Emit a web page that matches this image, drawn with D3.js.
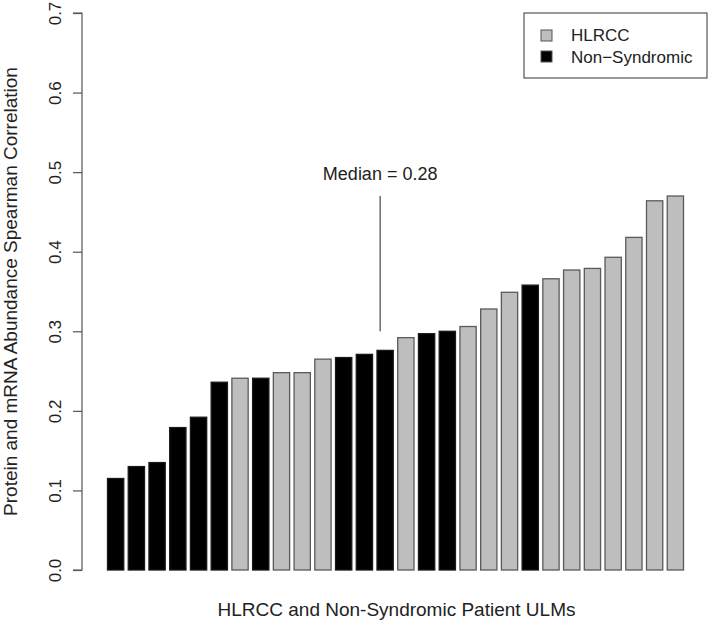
<!DOCTYPE html>
<html><head><meta charset="utf-8">
<script src="https://cdn.jsdelivr.net/npm/d3@7"></script>
<style>body{margin:0;background:#fff}svg{display:block;font-family:"Liberation Sans",Arial,sans-serif}</style>
</head><body><svg id="c" width="710" height="622"></svg>
<script>
const values = [0.115,0.130,0.135,0.179,0.192,0.236,0.241,0.241,0.248,0.248,0.265,0.267,0.271,0.276,0.292,0.297,0.300,0.306,0.328,0.349,0.358,0.366,0.377,0.379,0.393,0.418,0.464,0.470];
const groups = ["N","N","N","N","N","N","H","N","H","H","H","N","N","N","H","N","N","H","H","H","N","H","H","H","H","H","H","H"];
const legendLabels = ["HLRCC","Non\u2212Syndromic"];
const legendKeys = ["H","N"];
const yTicks = [0,0.1,0.2,0.3,0.4,0.5,0.6,0.7];
const medianLabel = "Median = 0.28";
const medianIndex = 12.76;   // annotation position in bar-index units
const medianLine = [0.30, 0.47];
const medianTextY = 0.49;

const color = {H:"#bebebe", N:"#000000"};
const svg = d3.select("#c");
const y = d3.scaleLinear().domain([0,0.7]).range([570,13]);
const x = d3.scaleBand().domain(d3.range(values.length)).range([107,684]).paddingInner(1/6).paddingOuter(0);
const xi = d3.scaleLinear().domain([0, values.length-1]).range([x(0)+x.bandwidth()/2, x(values.length-1)+x.bandwidth()/2]);

// bars
svg.append("g").selectAll("rect").data(values).join("rect")
  .attr("x",(d,i)=>x(i)+0.5).attr("width",x.bandwidth()-1)
  .attr("y",d=>y(d)).attr("height",d=>y(0)-y(d))
  .attr("fill",(d,i)=>color[groups[i]])
  .attr("stroke",(d,i)=>groups[i]==="H"?"#5a5a5a":"#1a1a1a").attr("stroke-width",1.3);

// y axis
const ax = svg.append("g").attr("transform","translate(82,0)")
  .call(d3.axisLeft(y).tickValues(yTicks).tickFormat(d3.format(".1f")).tickSize(9).tickPadding(0));
ax.select(".domain").attr("stroke","#555").attr("stroke-width",1.2).attr("d",`M-9,${y(0)}H0V${y(0.7)}H-9`);
ax.selectAll(".tick line").attr("stroke","#555").attr("stroke-width",1.2);
ax.selectAll(".tick text").attr("x",null).attr("dy",null)
  .attr("transform","translate(-21,0) rotate(-90)").attr("text-anchor","middle")
  .attr("font-size",17).attr("fill","#222").attr("font-family","Liberation Sans, Arial, sans-serif");

// y label
svg.append("text").attr("transform",`translate(17,${(y(0)+y(0.7))/2}) rotate(-90)`)
  .attr("text-anchor","middle").attr("font-size",19).attr("fill","#222")
  .text("Protein and mRNA Abundance Spearman Correlation");

// x label
svg.append("text").attr("x",(x.range()[0]+x.range()[1])/2+1).attr("y",616)
  .attr("text-anchor","middle").attr("font-size",19).attr("fill","#222")
  .text("HLRCC and Non-Syndromic Patient ULMs");

// median annotation
svg.append("line").attr("x1",xi(medianIndex)).attr("x2",xi(medianIndex))
  .attr("y1",y(medianLine[0])).attr("y2",y(medianLine[1])).attr("stroke","#555").attr("stroke-width",1.3);
svg.append("text").attr("x",xi(medianIndex)).attr("y",y(medianTextY)).attr("text-anchor","middle")
  .attr("font-size",18).attr("fill","#222").text(medianLabel);

// legend
const lg = svg.append("g");
lg.append("rect").attr("x",524).attr("y",13).attr("width",183).attr("height",65)
  .attr("fill","#fff").attr("stroke","#555").attr("stroke-width",1.2);
legendKeys.forEach((k,i)=>{
  lg.append("rect").attr("x",541).attr("y",30+i*21).attr("width",11).attr("height",11)
    .attr("fill",color[k]).attr("stroke","#555").attr("stroke-width",1);
  lg.append("text").attr("x",571).attr("y",41+i*21.5).attr("font-size",17).attr("fill","#222").text(legendLabels[i]);
});
</script></body></html>
